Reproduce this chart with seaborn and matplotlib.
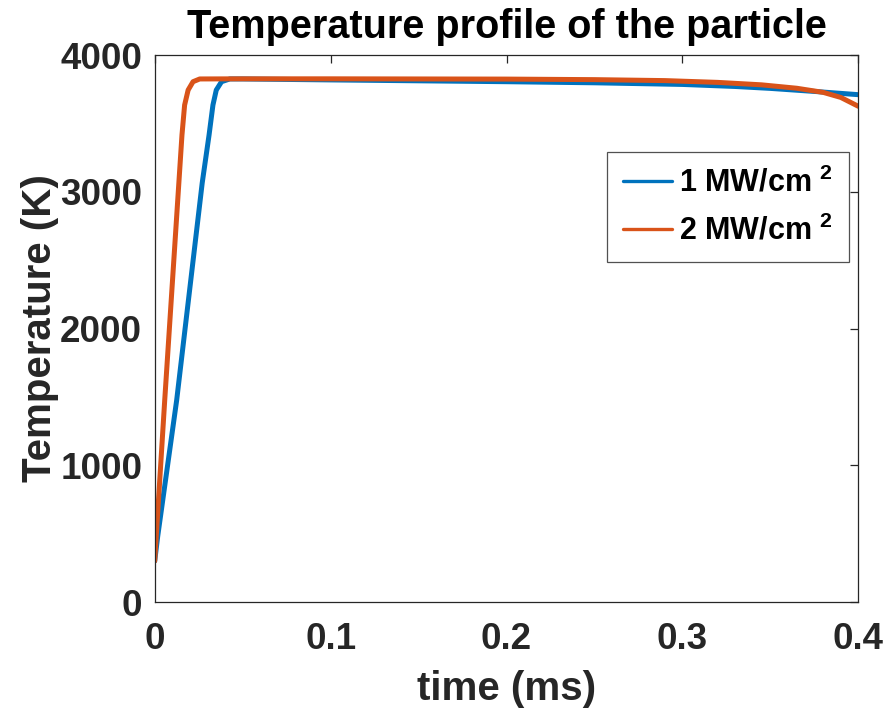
import pandas as pd
import matplotlib
matplotlib.use("Agg")
import matplotlib.pyplot as plt
import seaborn as sns

# Values
time_1mw = [0, 0.0017, 0.0125, 0.027, 0.0309, 0.0331, 0.035, 0.038, 0.0427, 0.05, 0.1, 0.2, 0.25, 0.3, 0.33, 0.35, 0.377, 0.4]
temp_1mw = [300, 480, 1477, 3064, 3415, 3634, 3744, 3805, 3825, 3825, 3818, 3805, 3797, 3785, 3770, 3756, 3732, 3710]

time_2mw = [0, 0.0057, 0.0155, 0.017, 0.019, 0.0218, 0.0256, 0.05, 0.1, 0.2, 0.25, 0.29, 0.32, 0.345, 0.365, 0.38, 0.39, 0.4]
temp_2mw = [300, 1477, 3415, 3634, 3744, 3805, 3825, 3826, 3826, 3824, 3820, 3813, 3800, 3782, 3757, 3727, 3690, 3625]

labels = ["1 MW/cm $^2$", "2 MW/cm $^2$"]
colors = ["#0072BD", "#D95319"]

df = pd.concat([
    pd.DataFrame({"time": time_1mw, "temp": temp_1mw, "case": labels[0]}),
    pd.DataFrame({"time": time_2mw, "temp": temp_2mw, "case": labels[1]}),
])

sns.set_theme(style="white")
plt.rcParams["font.family"] = ["Liberation Sans", "DejaVu Sans"]
plt.rcParams["font.weight"] = "bold"
plt.rcParams["mathtext.default"] = "regular"

fig = plt.figure(figsize=(8.84, 7.10), dpi=100)
ax = fig.add_axes([0.175, 0.152, 0.796, 0.7705])

sns.lineplot(data=df, x="time", y="temp", hue="case", palette=colors,
             linewidth=3.6, ax=ax, sort=False, estimator=None)

ax.set_xlim(0, 0.4)
ax.set_ylim(0, 4000)
ax.set_xticks([0, 0.1, 0.2, 0.3, 0.4])
ax.set_xticklabels(["0", "0.1", "0.2", "0.3", "0.4"])
ax.set_yticks([0, 1000, 2000, 3000, 4000])

# MATLAB-like box with inward ticks on all sides
for s in ax.spines.values():
    s.set_color("#262626")
    s.set_linewidth(0.9)
ax.tick_params(direction="in", length=6, width=0.9, top=True, right=True,
               labelsize=26.5, colors="#262626", labelcolor="#262626")
ax.tick_params(axis="x", pad=14)
ax.tick_params(axis="y", pad=9)
for lab in ax.get_xticklabels() + ax.get_yticklabels():
    lab.set_fontweight("bold")

ax.set_xlabel("time (ms)", fontsize=29, fontweight="bold", labelpad=10, color="#262626")
ax.set_ylabel("Temperature (K)", fontsize=29, fontweight="bold", labelpad=1, color="#262626")
ax.set_title("Temperature profile of the particle", fontsize=28.5, fontweight="bold",
             pad=12, color="black")

leg = ax.legend(loc="upper right", bbox_to_anchor=(0.986, 0.823), borderaxespad=0,
                fontsize=22, frameon=True, fancybox=False, handlelength=1.6,
                handletextpad=0.25, borderpad=0.5, labelspacing=0.55)
leg.get_frame().set_edgecolor("#262626")
leg.get_frame().set_linewidth(0.9)
for line in leg.get_lines():
    line.set_linewidth(2.4)
for t in leg.get_texts():
    t.set_fontweight("bold")
    t.set_color("black")

plt.savefig("out.png", dpi=100)
plt.close()
